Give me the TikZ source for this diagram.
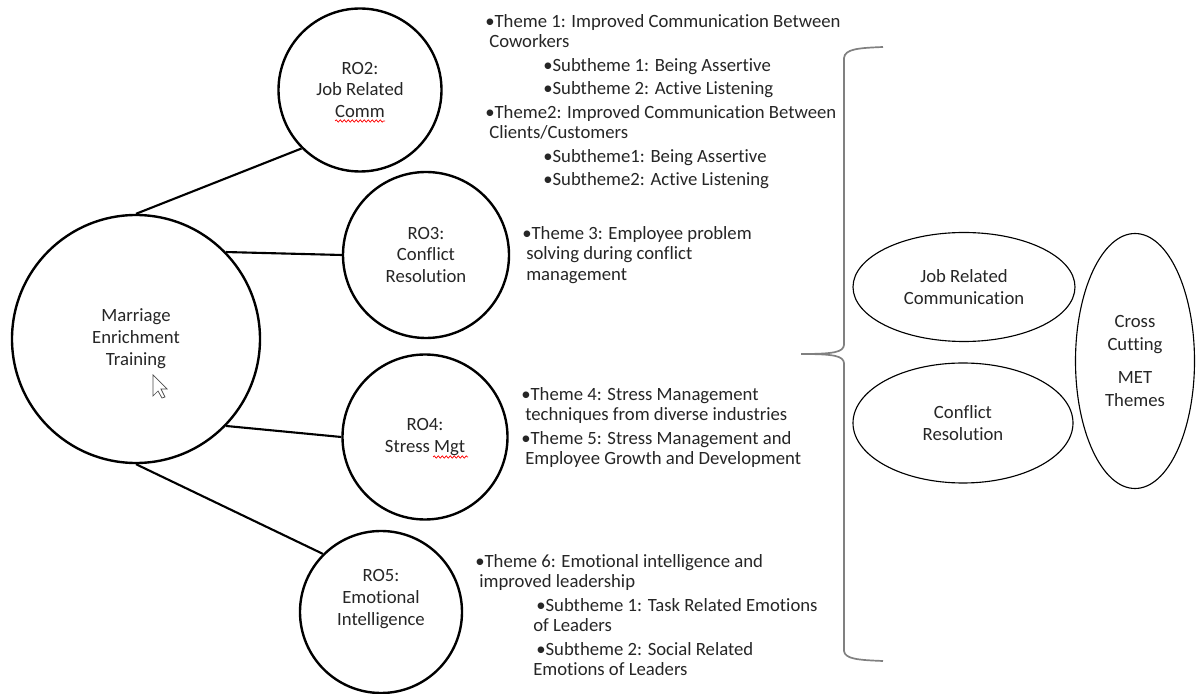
\documentclass[tikz,border=0pt]{standalone}
\usepackage{fontspec}
\setmainfont{Carlito}[Ligatures=NoCommon]
\usepackage{tikz}
\usetikzlibrary{shapes.geometric,decorations.pathmorphing}
\newlength\pxu
\setlength\pxu{0.025cm}
\newcommand*\indx[1]{\hspace*{#1\pxu}}
\newcommand*\gp{\\[2.1pt]}
\begin{document}
\begin{tikzpicture}[x=0.025cm,y=-0.025cm,
	ro/.style={circle, draw, line width=1.7pt, inner sep=0pt}
	,rotext/.style={align=center, inner sep=0pt, text=black!85, font=\fontsize{13.3}{15.6}\selectfont}
	,theme/.style={ellipse, draw, line width=0.8pt, inner sep=0pt, align=center, text=black!85, font=\fontsize{13.3}{15.4}\selectfont}
	,themes/.style={anchor=north west, inner sep=0pt, align=left, text=black!85, font=\fontsize{13.3}{14.6}\selectfont}
	,link/.style={line width=1.5pt}
	]
	\useasboundingbox (0,0) rectangle (1199,694);
	\fill[white] (0,0) rectangle (1199,694);
	
	\node[ro, minimum size=248\pxu, label={[rotext]center:{Marriage\\Enrichment\\Training}}] (met) at (136,339) {};
	\node[ro, minimum size=163\pxu, label={[rotext]center:{RO2:\\Job Related\\Comm}}] (ro2) at (360,90) {};
	\node[ro, minimum size=166\pxu, label={[rotext]center:{RO3:\\Conflict\\Resolution}}] (ro3) at (426,255) {};
	\node[ro, minimum size=165\pxu, label={[rotext]center:{RO4:\\Stress Mgt}}] (ro4) at (425,437) {};
	\node[ro, minimum size=162\pxu, label={[rotext,yshift=13\pxu]center:{RO5:\\Emotional\\Intelligence}}] (ro5) at (381,612) {};
	
	\draw[link] (met.90) -- (ro2.225);
	\draw[link] (met.44) -- (ro3.180);
	\draw[link] (met.-44) -- (ro4.180);
	\draw[link] (met.-90) -- (ro5.135);
	
	\node[themes] (t2) at (485,14) {\textbullet Theme 1: Improved Communication Between\\
		\indx{4}Coworkers\gp
		\indx{58}\textbullet Subtheme 1: Being Assertive\gp
		\indx{58}\textbullet Subtheme 2: Active Listening\gp
		\textbullet Theme2: Improved Communication Between\\
		\indx{4}Clients/Customers\gp
		\indx{58}\textbullet Subtheme1: Being Assertive\gp
		\indx{58}\textbullet Subtheme2: Active Listening};
	\node[themes] (t3) at (522,226) {\textbullet Theme 3: Employee problem\\
		\indx{4}solving during conflict\\
		\indx{4}management};
	\node[themes] (t4) at (521,387) {\textbullet Theme 4: Stress Management\\
		\indx{4}techniques from diverse industries\gp
		\textbullet Theme 5: Stress Management and\\
		\indx{4}Employee Growth and Development};
	\node[themes] (t5) at (475,554) {\textbullet Theme 6: Emotional intelligence and\\
		\indx{4}improved leadership\gp
		\indx{61}\textbullet Subtheme 1: Task Related Emotions\\
		\indx{58}of Leaders\gp
		\indx{61}\textbullet Subtheme 2: Social Related\\
		\indx{58}Emotions of Leaders};
	
	% brace
	\coordinate (bt) at (883,47);
	\coordinate (bm) at (801,354);
	\coordinate (bb) at (883,661);
	\draw[gray, line width=1.2pt] (bt) .. controls (858,48) and (845,49) .. (844,58) -- (844,345)
		.. controls (843,352) and (835,354) .. (bm)
		.. controls (835,354) and (843,356) .. (844,363) -- (844,651)
		.. controls (845,659) and (858,660) .. (bb);
	
	\node[theme, minimum width=222\pxu, minimum height=109\pxu] (jrc) at (964,287) {Job Related\\Communication};
	\node[theme, minimum width=220\pxu, minimum height=120\pxu] (cr) at (963,423) {Conflict\\Resolution};
	\node[theme, minimum width=119\pxu, minimum height=255\pxu, font=\fontsize{13.3}{16.4}\selectfont] (cc) at (1135,361) {Cross\\Cutting\\[7pt]MET\\Themes};
	
	% spell-check marks and pointer
	\draw[red, line width=0.5pt, decorate, decoration={snake, amplitude=1.2\pxu, segment length=4\pxu}] (335,121) -- (385,121);
	\draw[red, line width=0.5pt, decorate, decoration={snake, amplitude=1.2\pxu, segment length=4\pxu}] (433,457) -- (468,457);
	\draw[fill=white, draw=black!70, line width=0.5pt] (153,375) -- ++(0,21) -- ++(5,-5) -- ++(4,7) -- ++(3,-1) -- ++(-4,-8) -- ++(6,0) -- cycle;
\end{tikzpicture}
\end{document}
